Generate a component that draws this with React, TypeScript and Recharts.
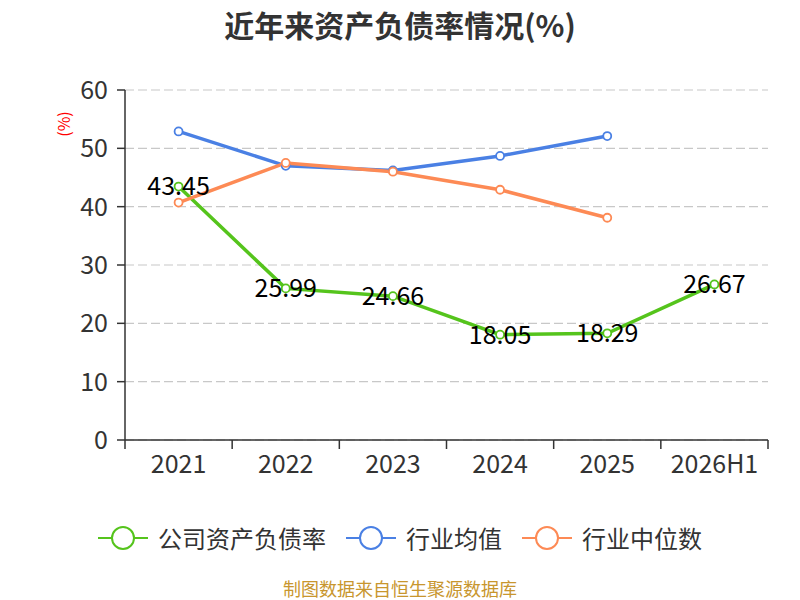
import { LineChart, Line, XAxis, YAxis, CartesianGrid, LabelList } from "recharts";

const years = ["2021", "2022", "2023", "2024", "2025", "2026H1"];
const companyRatio = [43.45, 25.99, 24.66, 18.05, 18.29, 26.67];
const industryAvg = [52.9, 47.0, 46.2, 48.7, 52.1, null];
const industryMedian = [40.7, 47.5, 46.0, 42.9, 38.1, null];
const yTicks = [0, 10, 20, 30, 40, 50, 60];

const W = 800;
const H = 600;
const Y_AXIS_W = 60;
const X_AXIS_H = 30;
const M = { top: 90, right: 32, bottom: 130, left: 65 };
const plotW = W - M.left - Y_AXIS_W - M.right;
const axisY = H - M.bottom - X_AXIS_H;
const FONT = "'Noto Sans CJK SC', 'Noto Sans', sans-serif";

const GREEN = "#55c41c";
const BLUE = "#4a80e4";
const ORANGE = "#fd8a55";

const series = [
  { key: "company", name: "公司资产负债率", color: GREEN },
  { key: "avg", name: "行业均值", color: BLUE },
  { key: "median", name: "行业中位数", color: ORANGE },
];

const data = years.map((y, i) => ({
  year: y,
  company: companyRatio[i],
  avg: industryAvg[i],
  median: industryMedian[i],
}));

// category ticks sit on the band edges, labels in the middle
function XTick(props: any) {
  const { x, payload, index } = props;
  const bw = plotW / years.length;
  return (
    <g>
      <line x1={x - bw / 2} x2={x - bw / 2} y1={axisY} y2={axisY + 9} stroke="#333" strokeWidth={1.5} />
      {index === years.length - 1 && (
        <line x1={x + bw / 2} x2={x + bw / 2} y1={axisY} y2={axisY + 9} stroke="#333" strokeWidth={1.5} />
      )}
      <text x={x} y={axisY + 33} textAnchor="middle" fontSize={25} fill="#333" fontFamily={FONT}>
        {payload.value}
      </text>
    </g>
  );
}

function ChartLegend() {
  return (
    <div
      style={{
        position: "absolute",
        top: 524,
        left: 0,
        width: W,
        display: "flex",
        justifyContent: "center",
        gap: 20,
        fontFamily: FONT,
        fontSize: 24,
        lineHeight: "28px",
        color: "#333",
      }}
    >
      {series.map((s) => (
        <div key={s.key} style={{ display: "flex", alignItems: "center", gap: 10 }}>
          <svg width={50} height={28}>
            <line x1={0} x2={50} y1={14} y2={14} stroke={s.color} strokeWidth={2} />
            <circle cx={25} cy={14} r={11} fill="#fff" stroke={s.color} strokeWidth={2} />
          </svg>
          <span>{s.name}</span>
        </div>
      ))}
    </div>
  );
}

export default function App() {
  return (
    <div style={{ position: "absolute", left: 0, top: 0, width: W, height: H, background: "#fff" }}>
      <div
        style={{
          position: "absolute",
          top: 4,
          width: W,
          textAlign: "center",
          fontFamily: FONT,
          fontWeight: "bold",
          fontSize: 30,
          lineHeight: "40px",
          color: "#333",
        }}
      >
        近年来资产负债率情况(%)
      </div>
      <div
        style={{
          position: "absolute",
          left: 50,
          top: 112,
          transform: "rotate(-90deg)",
          transformOrigin: "center",
          color: "#f00",
          fontFamily: FONT,
          fontSize: 16,
          lineHeight: "24px",
        }}
      >
        (%)
      </div>
      <LineChart width={W} height={H} data={data} margin={M}>
        <CartesianGrid vertical={false} stroke="#c8c8c8" strokeDasharray="9 4" strokeWidth={1.2} />
        <XAxis
          dataKey="year"
          scale="band"
          height={X_AXIS_H}
          axisLine={{ stroke: "#333", strokeWidth: 1.5 }}
          tickLine={false}
          tick={<XTick />}
          interval={0}
        />
        <YAxis
          domain={[0, 60]}
          ticks={yTicks}
          axisLine={{ stroke: "#333", strokeWidth: 1.5 }}
          tickLine={{ stroke: "#333", strokeWidth: 1.5 }}
          tickSize={8}
          tickMargin={9}
          tick={{ fontSize: 25, fill: "#333", fontFamily: FONT }}
          width={Y_AXIS_W}
        />
        <Line
          dataKey="company"
          name="公司资产负债率"
          stroke={GREEN}
          strokeWidth={3.5}
          dot={{ r: 4, fill: "#fff", stroke: GREEN, strokeWidth: 1.8 }}
          isAnimationActive={false}
        >
          <LabelList dataKey="company" position="center" fontSize={25} fill="#000" fontFamily={FONT} />
        </Line>
        <Line
          dataKey="avg"
          name="行业均值"
          stroke={BLUE}
          strokeWidth={3.5}
          dot={{ r: 4, fill: "#fff", stroke: BLUE, strokeWidth: 1.8 }}
          isAnimationActive={false}
        />
        <Line
          dataKey="median"
          name="行业中位数"
          stroke={ORANGE}
          strokeWidth={3.5}
          dot={{ r: 4, fill: "#fff", stroke: ORANGE, strokeWidth: 1.8 }}
          isAnimationActive={false}
        />
      </LineChart>
      <ChartLegend />
      <div
        style={{
          position: "absolute",
          top: 577,
          width: W,
          textAlign: "center",
          fontFamily: FONT,
          fontSize: 18,
          lineHeight: "22px",
          color: "#c8962e",
        }}
      >
        制图数据来自恒生聚源数据库
      </div>
    </div>
  );
}
